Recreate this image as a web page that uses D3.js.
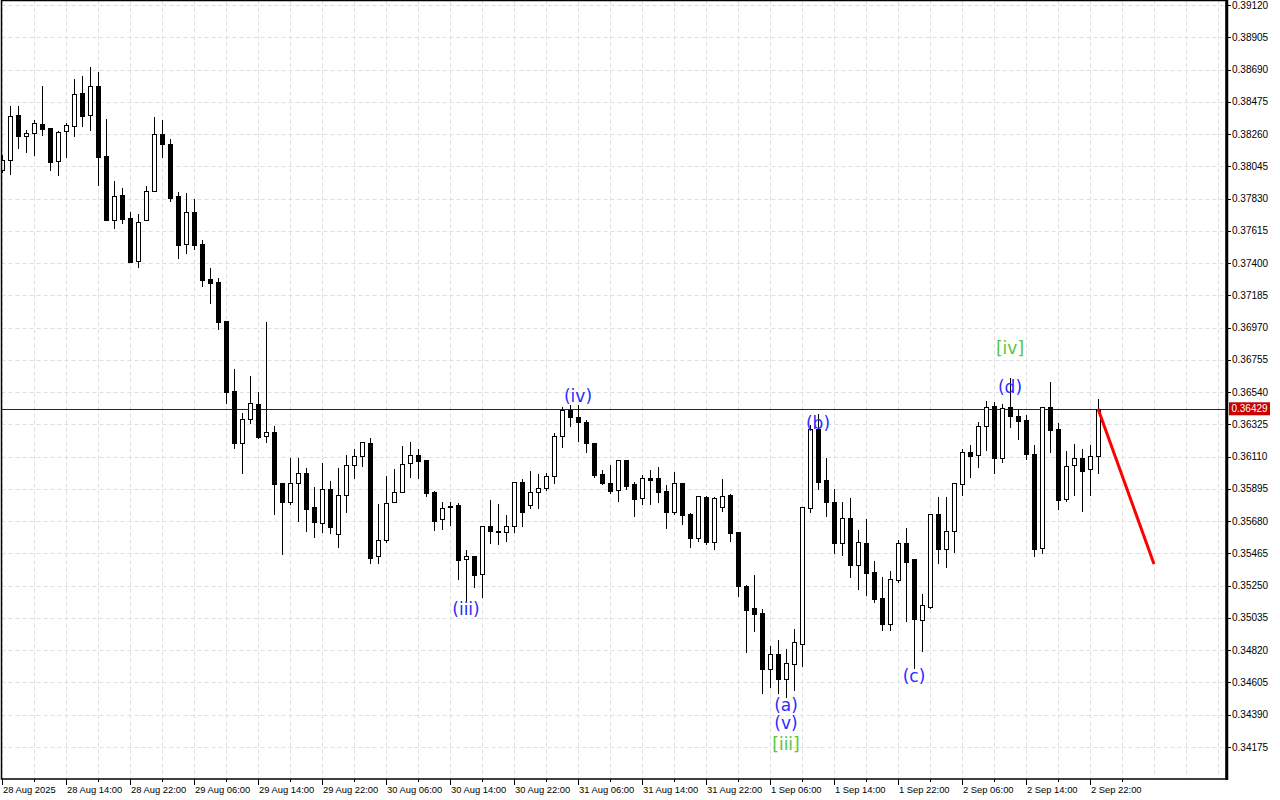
<!DOCTYPE html>
<html><head><meta charset="utf-8">
<script src="https://cdn.jsdelivr.net/npm/d3@7"></script>
<style>html,body{margin:0;padding:0;background:#fff;} svg{display:block;}</style>
</head><body>
<svg id="chart" width="1280" height="800"></svg>
<script>
const opens = [
0.38020,0.38087,0.38386,0.38247,0.38267,0.38326,0.38300,0.38080,0.38280,0.38313,
0.38533,0.38386,0.38580,0.38113,0.37687,0.37853,0.37700,0.37413,0.37687,0.37880,
0.38260,0.38193,0.37847,0.37527,0.37740,0.37527,0.37293,0.37273,0.37013,0.36547,
0.36200,0.36360,0.36460,0.36247,0.36274,0.35934,0.35807,0.35934,0.36000,0.35774,
0.35667,0.35894,0.35594,0.35854,0.36054,0.36114,0.36200,0.35447,0.35554,0.35807,
0.35874,0.36067,0.36120,0.36087,0.35874,0.35694,0.35780,0.35787,0.35427,0.35447,
0.35327,0.35647,0.35614,0.35607,0.35647,0.35940,0.35787,0.35874,0.35900,0.35980,
0.36247,0.36420,0.36374,0.36340,0.36200,0.35994,0.35934,0.35887,0.36087,0.35927,
0.35834,0.35967,0.35967,0.35880,0.35740,0.35934,0.35727,0.35567,0.35840,0.35541,
0.35774,0.35854,0.35607,0.35247,0.35101,0.35067,0.34694,0.34794,0.34627,0.34727,
0.34861,0.35767,0.36294,0.35954,0.35807,0.35534,0.35700,0.35387,0.35534,0.35341,
0.35167,0.34994,0.35287,0.35534,0.35427,0.35021,0.35107,0.35727,0.35494,0.35614,
0.35927,0.36140,0.36120,0.36314,0.36447,0.36100,0.36440,0.36380,0.36354,0.36127,
0.35501,0.36440,0.36294,0.35827,0.36054,0.36100,0.36027,0.36114];
const highs = [
0.38120,0.38446,0.38446,0.38286,0.38353,0.38580,0.38300,0.38280,0.38333,0.38626,
0.38646,0.38706,0.38673,0.38360,0.37947,0.37900,0.37740,0.37727,0.37913,0.38373,
0.38353,0.38227,0.37873,0.37867,0.37827,0.37553,0.37367,0.37300,0.37013,0.36694,
0.36400,0.36647,0.36540,0.37007,0.36314,0.35934,0.36100,0.36100,0.36034,0.35907,
0.36067,0.35947,0.36034,0.36120,0.36160,0.36207,0.36234,0.35794,0.35980,0.36027,
0.36180,0.36207,0.36160,0.36087,0.35880,0.35807,0.35807,0.35800,0.35487,0.35447,
0.35647,0.35820,0.35794,0.35720,0.35940,0.35960,0.36014,0.35994,0.36000,0.36267,
0.36440,0.36454,0.36454,0.36354,0.36200,0.36020,0.36054,0.36087,0.36087,0.35940,
0.35987,0.36020,0.36040,0.35920,0.36007,0.35934,0.35734,0.35847,0.35847,0.35840,
0.35960,0.35860,0.35607,0.35254,0.35321,0.35094,0.34847,0.34887,0.34827,0.34961,
0.35774,0.36320,0.36394,0.36100,0.35894,0.35807,0.35834,0.35620,0.35694,0.35414,
0.35307,0.35347,0.35554,0.35634,0.35427,0.35194,0.35727,0.35840,0.35840,0.35934,
0.36160,0.36187,0.36340,0.36480,0.36474,0.36460,0.36634,0.36420,0.36387,0.36187,
0.36440,0.36607,0.36334,0.36147,0.36194,0.36160,0.36187,0.36494];
const lows = [
0.38007,0.37993,0.38167,0.38140,0.38120,0.38253,0.38020,0.37987,0.38107,0.38247,
0.38313,0.38286,0.37920,0.37687,0.37633,0.37667,0.37407,0.37373,0.37687,0.37880,
0.38107,0.37813,0.37433,0.37467,0.37493,0.37247,0.37133,0.36960,0.36467,0.36167,
0.36000,0.36334,0.36234,0.36207,0.35727,0.35461,0.35794,0.35680,0.35614,0.35574,
0.35607,0.35600,0.35507,0.35740,0.35967,0.36047,0.35401,0.35401,0.35541,0.35807,
0.35874,0.35974,0.35967,0.35847,0.35620,0.35627,0.35654,0.35294,0.35147,0.35241,
0.35174,0.35534,0.35527,0.35547,0.35607,0.35647,0.35767,0.35767,0.35887,0.35934,
0.36174,0.36314,0.36214,0.36140,0.35974,0.35927,0.35867,0.35814,0.35894,0.35714,
0.35794,0.35794,0.35807,0.35634,0.35727,0.35660,0.35507,0.35547,0.35527,0.35494,
0.35747,0.35547,0.35181,0.34807,0.34947,0.34534,0.34574,0.34534,0.34508,0.34554,
0.34714,0.35740,0.35894,0.35714,0.35467,0.35454,0.35307,0.35227,0.35187,0.35141,
0.34954,0.34954,0.35274,0.35014,0.34701,0.34814,0.35101,0.35401,0.35374,0.35474,
0.35854,0.35974,0.36040,0.36154,0.36000,0.36074,0.36307,0.36227,0.36094,0.35447,
0.35467,0.36140,0.35760,0.35814,0.35854,0.35747,0.35854,0.36000];
const closes = [
0.38087,0.38380,0.38247,0.38267,0.38333,0.38293,0.38073,0.38273,0.38320,0.38526,
0.38380,0.38580,0.38107,0.37687,0.37847,0.37693,0.37407,0.37673,0.37880,0.38260,
0.38193,0.37833,0.37520,0.37740,0.37520,0.37287,0.37267,0.37007,0.36540,0.36200,
0.36360,0.36467,0.36240,0.36274,0.35927,0.35807,0.35934,0.36000,0.35760,0.35674,
0.35894,0.35640,0.35854,0.36054,0.36114,0.36207,0.35434,0.35554,0.35800,0.35874,
0.36060,0.36120,0.36080,0.35867,0.35680,0.35767,0.35774,0.35421,0.35447,0.35321,
0.35647,0.35614,0.35607,0.35647,0.35940,0.35740,0.35874,0.35900,0.35980,0.36247,
0.36420,0.36374,0.36340,0.36200,0.35987,0.35934,0.35880,0.36087,0.35914,0.35827,
0.35967,0.35954,0.35874,0.35740,0.35934,0.35720,0.35567,0.35847,0.35541,0.35834,
0.35847,0.35600,0.35247,0.35087,0.35061,0.34694,0.34794,0.34627,0.34734,0.34874,
0.35774,0.36294,0.35940,0.35807,0.35534,0.35700,0.35387,0.35541,0.35334,0.35161,
0.34994,0.35294,0.35534,0.35407,0.35027,0.35121,0.35727,0.35494,0.35614,0.35934,
0.36140,0.36114,0.36314,0.36440,0.36100,0.36434,0.36380,0.36347,0.36127,0.35494,
0.36440,0.36287,0.35820,0.36047,0.36100,0.36014,0.36114,0.36429];

const priceTicks = [0.39120,0.38905,0.38690,0.38475,0.38260,0.38045,0.37830,0.37615,0.37400,0.37185,
  0.36970,0.36755,0.36540,0.36325,0.36110,0.35895,0.35680,0.35465,0.35250,0.35035,0.34820,0.34605,0.34390,0.34175];
const timeLabels = ["28 Aug 2025","28 Aug 14:00","28 Aug 22:00","29 Aug 06:00","29 Aug 14:00","29 Aug 22:00",
  "30 Aug 06:00","30 Aug 14:00","30 Aug 22:00","31 Aug 06:00","31 Aug 14:00","31 Aug 22:00",
  "1 Sep 06:00","1 Sep 14:00","1 Sep 22:00","2 Sep 06:00","2 Sep 14:00","2 Sep 22:00"];
const timeLabelBars = [0,8,16,24,32,40,48,56,64,72,80,88,96,104,112,120,128,136];
const lastPrice = 0.36429;
const forecastBars = [137,144];
const forecastPrices = [0.36429,0.35395];
const waveTexts  = ["(iii)","(iv)","(a)","(v)","[iii]","(b)","(c)","(d)","[iv]"];
const waveBars   = [58,72,98,98,98,102,114,126,126];
const wavePrices = [0.35094,0.36514,0.34454,0.34334,0.34194,0.36334,0.34647,0.36574,0.36834];

const svg = d3.select("#chart");
const plotL = 1.5, plotR = 1226, plotT = 0.5, plotB = 779;

const x = d3.scaleLinear().domain([0,137]).range([2,1098]);
const y = d3.scaleLinear().domain([0.34175,0.39120]).range([747,5]);

svg.append("rect").attr("width",1280).attr("height",800).attr("fill","#fff");

svg.append("defs").append("clipPath").attr("id","plotclip")
  .append("rect").attr("x",plotL).attr("y",plotT).attr("width",plotR-plotL).attr("height",plotB-plotT);

const grid = svg.append("g").attr("clip-path","url(#plotclip)");
// horizontal grid
grid.selectAll("line.h").data(priceTicks).join("line")
  .attr("x1",plotL).attr("x2",plotR)
  .attr("y1",d=>Math.round(y(d))+0.5).attr("y2",d=>Math.round(y(d))+0.5)
  .attr("stroke","#dedede").attr("stroke-width",1).attr("stroke-dasharray","4,3");
// vertical grid every 4 bars
const vBars = d3.range(0,153,4);
grid.selectAll("line.v").data(vBars).join("line")
  .attr("x1",d=>Math.round(x(d))+0.5).attr("x2",d=>Math.round(x(d))+0.5)
  .attr("y1",plotT).attr("y2",plotB)
  .attr("stroke","#dedede").attr("stroke-width",1).attr("stroke-dasharray","4,3");

// current price line
grid.append("line")
  .attr("x1",plotL).attr("x2",plotR)
  .attr("y1",Math.round(y(lastPrice))+0.5).attr("y2",Math.round(y(lastPrice))+0.5)
  .attr("stroke","#5a1010").attr("stroke-width",1);

// candles
const bars = d3.range(opens.length);
const cg = svg.append("g").attr("clip-path","url(#plotclip)");
cg.selectAll("line.wick").data(bars).join("line")
  .attr("x1",i=>Math.round(x(i))+0.5).attr("x2",i=>Math.round(x(i))+0.5)
  .attr("y1",i=>Math.round(y(highs[i]))).attr("y2",i=>Math.round(y(lows[i]))+1)
  .attr("stroke","#000").attr("stroke-width",1);
cg.selectAll("rect.body").data(bars).join("rect")
  .attr("x",i=>Math.round(x(i))-1.5)
  .attr("width",4)
  .attr("y",i=>Math.round(y(Math.max(opens[i],closes[i])))+0.5)
  .attr("height",i=>Math.max(1, Math.round(y(Math.min(opens[i],closes[i])))-Math.round(y(Math.max(opens[i],closes[i])))))
  .attr("fill",i=>closes[i]>=opens[i]?"#fff":"#000")
  .attr("stroke","#000").attr("stroke-width",1);

// forecast line
svg.append("line")
  .attr("x1",x(forecastBars[0])).attr("y1",y(forecastPrices[0]))
  .attr("x2",x(forecastBars[1])).attr("y2",y(forecastPrices[1]))
  .attr("stroke","#ff0000").attr("stroke-width",3);

// wave labels
svg.selectAll("text.wave").data(waveTexts).join("text")
  .attr("x",(d,i)=>x(waveBars[i]))
  .attr("y",(d,i)=>y(wavePrices[i]))
  .attr("dy","0.36em")
  .attr("text-anchor","middle")
  .attr("font-family","DejaVu Sans, Verdana, sans-serif")
  .attr("font-size",17)
  .attr("fill",d=>d.startsWith("[")?"#58c63a":"#2b2bff")
  .text(d=>d);

// borders
svg.append("rect").attr("x",plotL).attr("y",plotT).attr("width",plotR-plotL).attr("height",plotB-plotT)
  .attr("fill","none").attr("stroke","#000").attr("stroke-width",1.5);
svg.append("line").attr("x1",1227).attr("x2",1227).attr("y1",0).attr("y2",780)
  .attr("stroke","#000").attr("stroke-width",2.5);

// right axis
const ra = svg.append("g");
ra.selectAll("line").data(priceTicks).join("line")
  .attr("x1",1227).attr("x2",1231)
  .attr("y1",d=>Math.round(y(d))+0.5).attr("y2",d=>Math.round(y(d))+0.5)
  .attr("stroke","#000");
ra.selectAll("text").data(priceTicks).join("text")
  .attr("x",1232).attr("y",d=>y(d)).attr("dy","0.35em")
  .attr("font-family","Liberation Sans, Arial, sans-serif").attr("font-size",10)
  .attr("fill","#000").text(d=>d.toFixed(5));
// last price tag
ra.append("rect").attr("x",1229).attr("y",y(lastPrice)-6.5).attr("width",41).attr("height",13).attr("fill","#c80000");
ra.append("text").attr("x",1249.5).attr("y",y(lastPrice)).attr("dy","0.35em").attr("text-anchor","middle")
  .attr("font-family","Liberation Sans, Arial, sans-serif").attr("font-size",10)
  .attr("fill","#fff").text(lastPrice.toFixed(5));

// bottom axis
const ba = svg.append("g");
ba.selectAll("line.maj").data(timeLabelBars).join("line")
  .attr("x1",d=>Math.round(x(d))+0.5).attr("x2",d=>Math.round(x(d))+0.5)
  .attr("y1",779).attr("y2",785).attr("stroke","#000");
ba.selectAll("line.min").data(timeLabelBars.map(d=>d+4)).join("line")
  .attr("x1",d=>Math.round(x(d))+0.5).attr("x2",d=>Math.round(x(d))+0.5)
  .attr("y1",779).attr("y2",782).attr("stroke","#000");
ba.selectAll("text").data(timeLabels).join("text")
  .attr("x",(d,i)=>x(timeLabelBars[i])+1).attr("y",793)
  .attr("font-family","Liberation Sans, Arial, sans-serif").attr("font-size",9.4)
  .attr("fill","#000").text(d=>d);
</script>
</body></html>
